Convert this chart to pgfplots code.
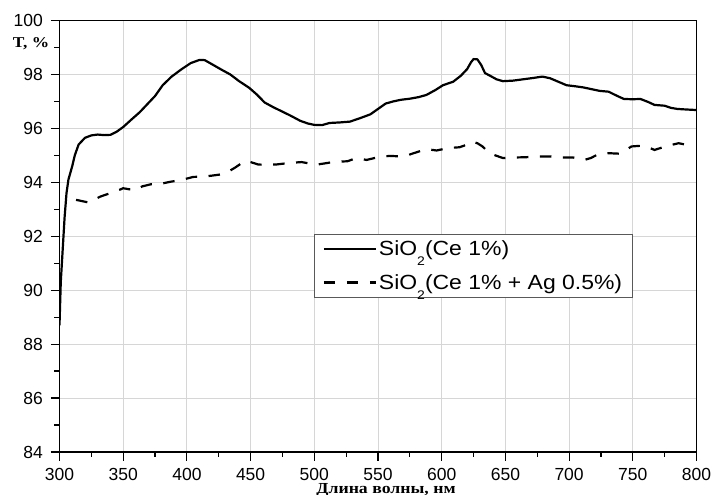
\documentclass[border=0pt]{standalone}
\usepackage{fontspec}
\setmainfont{Liberation Sans}
\newfontfamily\legfont[FakeStretch=1.12]{Liberation Sans}
\newfontfamily\serifb[FakeStretch=1.16]{Liberation Serif}
\usepackage{pgfplots}
\pgfplotsset{compat=1.18}
\pgfplotstableread{
x y
300 88.7
301 90.3
302.5 91.5
304 92.7
305.5 93.6
307 94.1
310 94.6
312 95.0
315 95.4
320 95.65
325 95.74
330 95.77
335 95.75
340 95.76
345 95.88
350 96.05
357 96.35
363 96.6
368 96.85
375 97.2
381 97.6
388 97.92
396 98.2
403 98.42
410 98.54
414 98.53
420 98.37
427 98.18
434 98.0
441 97.75
449 97.5
455 97.25
461 96.96
468 96.78
475 96.62
481 96.48
489 96.28
495 96.18
500 96.13
506 96.12
512 96.2
520 96.22
528 96.25
536 96.38
544 96.52
550 96.72
556 96.92
562 97.0
568 97.06
575 97.1
582 97.16
588 97.24
595 97.42
601 97.6
609 97.73
615 97.95
620 98.2
623 98.45
625 98.57
628 98.56
631 98.35
634 98.05
638 97.95
643 97.82
648 97.75
656 97.77
664 97.82
672 97.87
679 97.92
685 97.86
692 97.72
698 97.6
705 97.56
711 97.52
718 97.45
724 97.39
731 97.36
737 97.22
743 97.09
750 97.08
756 97.09
762 96.98
767 96.87
775 96.84
780 96.76
785 96.72
792 96.7
800 96.68
}\solid
\pgfplotstableread{
x y
313 93.35
318 93.3
323 93.25
327 93.35
332 93.47
340 93.6
347 93.72
350 93.78
355 93.74
359 93.7
365 93.85
372 93.93
378 93.93
387 94.02
396 94.09
405 94.2
413 94.21
420 94.25
428 94.3
432 94.38
438 94.55
442 94.68
446 94.8
450 94.75
456 94.66
461 94.65
470 94.66
481 94.72
490 94.75
496 94.7
501 94.65
508 94.7
516 94.76
526 94.78
533 94.9
541 94.83
550 94.93
559 94.98
568 94.96
573 95.0
578 95.08
588 95.23
596 95.18
605 95.27
614 95.3
620 95.4
624 95.51
628 95.45
632 95.33
637 95.1
642 95.0
648 94.9
657 94.92
666 94.93
675 94.96
685 94.96
694 94.92
703 94.92
712 94.83
717 94.9
722 95.02
731 95.08
740 95.06
749 95.33
758 95.36
763 95.28
767 95.2
777 95.35
786 95.45
791 95.4
796 95.3
}\dashed
\begin{document}
\begin{tikzpicture}
\useasboundingbox (-59.5pt,-43pt) rectangle (652.5pt,452pt);
\begin{axis}[
  scale only axis, width=637pt, height=431.5pt,
  xmin=300, xmax=800, ymin=84, ymax=100,
  xtick={300,350,...,800}, ytick={84,86,...,100},
  minor x tick num=1, minor y tick num=1,
  tick pos=left, tick align=outside,
  major tick length=8.5pt, minor tick length=5pt,
  every tick/.style={black, line width=1.2pt},
  grid=major, major grid style={draw=black!16, line width=0.9pt},
  axis line style={line width=1.3pt},
  /pgf/number format/assume math mode=true,
  tick label style={font=\fontsize{17.5}{20}\selectfont, inner sep=0pt},
  yticklabel style={xshift=-8pt},
  xticklabel style={yshift=-7.5pt},
  legend style={at={(axis cs:500,92.1)}, anchor=north west, draw=black!65, line width=0.9pt,
    font=\legfont\fontsize{20.5}{24}\selectfont, inner xsep=8pt, inner ysep=5pt,
    row sep=13pt, nodes={inner sep=2pt}, cells={anchor=west},
    /tikz/every even column/.append style={column sep=1pt}},
  legend image code/.code={\draw[#1] (0pt,0pt) -- (52pt,0pt);},
]
\addplot[black, line width=2.2pt, line join=round] table {\solid};
\addlegendentry{SiO\raisebox{-0.48em}{\fontsize{12.5}{12}\selectfont 2}(Ce 1\%)}
\addplot[black, line width=2.2pt, dash pattern=on 11.5pt off 11.5pt] table {\dashed};
\addlegendentry{SiO\raisebox{-0.48em}{\fontsize{12.5}{12}\selectfont 2}(Ce 1\% + Ag 0.5\%)}
\end{axis}
\node[anchor=base west, inner sep=0pt, font=\serifb\bfseries\fontsize{15}{18}\selectfont] at (-46.8pt,404.7pt) {T, \%};
\node[anchor=base, inner sep=0pt, font=\serifb\bfseries\fontsize{15.3}{18}\selectfont] at (326.5pt,-41.5pt) {Длина волны, нм};
\end{tikzpicture}
\end{document}
